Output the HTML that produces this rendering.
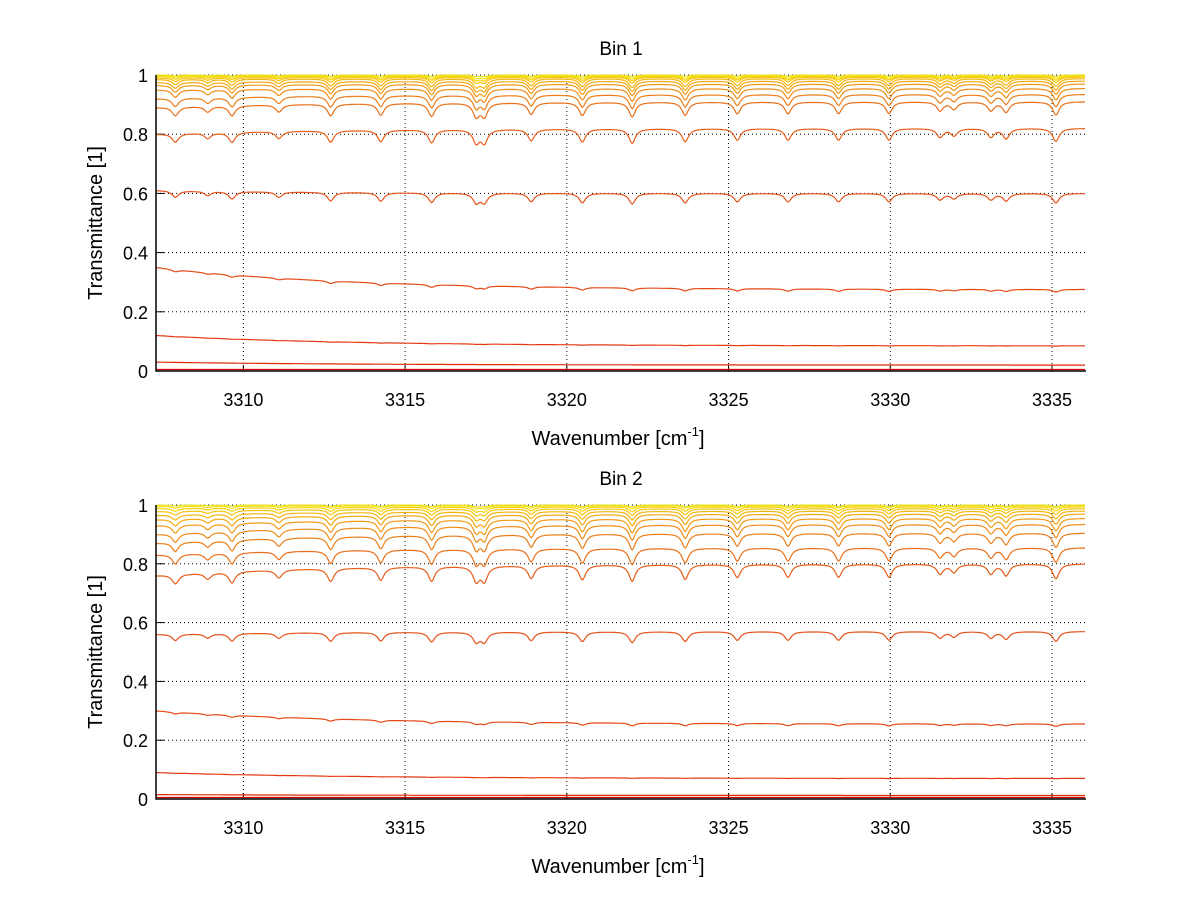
<!DOCTYPE html>
<html><head><meta charset="utf-8"><style>
html,body{margin:0;padding:0;background:#fff;}
svg{display:block;font-family:"Liberation Sans",sans-serif;}
</style></head><body>
<svg id="chart" width="1200" height="901" viewBox="0 0 1200 901"></svg>
<script>
// ---- data ----
const xTicks = [3310, 3315, 3320, 3325, 3330, 3335];
const yTicks = [0, 0.2, 0.4, 0.6, 0.8, 1];
const lineCenters = [3307.9, 3308.9, 3309.65, 3311.1, 3312.7, 3314.25, 3315.82, 3317.2, 3317.45, 3318.9, 3320.48, 3322.02, 3323.66, 3325.27, 3326.84, 3328.4, 3329.96, 3331.54, 3331.97, 3333.11, 3333.58, 3335.12];
const lineStrengths = [0.6, 0.4, 0.7, 0.5, 0.8, 0.8, 0.9, 0.9, 0.9, 0.8, 0.9, 1.0, 0.9, 0.8, 0.8, 0.8, 0.8, 0.6, 0.5, 0.6, 0.7, 0.9];
const bin1Base = [0.005, 0.02, 0.085, 0.275, 0.6, 0.82, 0.91, 0.935, 0.955, 0.97, 0.98, 0.988, 0.993, 0.996, 0.998, 1.0];
const bin1Left = [0.005, 0.03, 0.12, 0.35, 0.61, 0.8, 0.89, 0.92, 0.95, 0.965, 0.975, 0.985, 0.99, 0.995, 0.998, 1.0];
const bin1Depth = [0.0, 0.0, 0.015, 0.035, 0.06, 0.06, 0.055, 0.05, 0.045, 0.04, 0.035, 0.03, 0.02, 0.015, 0.01, 0.005];
const bin2Base = [0.005, 0.012, 0.07, 0.255, 0.57, 0.8, 0.855, 0.905, 0.935, 0.955, 0.97, 0.98, 0.988, 0.994, 0.998, 1.0];
const bin2Left = [0.005, 0.015, 0.09, 0.3, 0.56, 0.76, 0.83, 0.87, 0.9, 0.93, 0.95, 0.965, 0.978, 0.988, 0.995, 1.0];
const bin2Depth = [0.0, 0.0, 0.015, 0.035, 0.065, 0.07, 0.065, 0.06, 0.055, 0.05, 0.04, 0.03, 0.022, 0.016, 0.01, 0.006];
const curveColors = ["#d40000","#dd2a00","#e23a10","#e44a16","#e5521a","#e65e1a","#e8701a","#eb7e1a","#ee8c18","#f09a16","#f2a812","#f4b60e","#f6c40a","#f8d208","#f5e010","#e8e020"];
const xMin = 3307.3, xMax = 3336.05;

const NS = "http://www.w3.org/2000/svg";
const svg = document.getElementById("chart");
function mk(tag, attrs, parent) {
  const e = document.createElementNS(NS, tag);
  for (const k in attrs) e.setAttribute(k, attrs[k]);
  (parent || svg).appendChild(e);
  return e;
}
function absorb(w) {
  let s = 0;
  for (let i = 0; i < lineCenters.length; i++) {
    const d = (w - lineCenters[i]) / 0.12;
    s += lineStrengths[i] / (1 + d * d);
  }
  return s;
}
function panel(id, title, x0, x1, yTop, yBot, base, left, depth) {
  const g = mk("g", {});
  
  
  const sx = v => x0 + (v - xMin) / (xMax - xMin) * (x1 - x0);
  const sy = v => yBot - v * (yBot - yTop);
  xTicks.forEach(t => {
    const l = mk("line", {x1: sx(t), x2: sx(t), y1: yTop, y2: yBot, stroke: "#000", "stroke-width": 1, "stroke-dasharray": "1,3"}, g);
    
    
    const tk = mk("line", {x1: sx(t), x2: sx(t), y1: yBot, y2: yBot - 6, stroke: "#000"}, g);
    
    
    const tx = mk("text", {x: sx(t), y: yBot + 35, "text-anchor": "middle", "font-size": 18}, g);
    tx.textContent = t;
    
    
  });
  yTicks.forEach(t => {
    const l = mk("line", {x1: x0, x2: x1, y1: sy(t), y2: sy(t), stroke: "#000", "stroke-width": 1, "stroke-dasharray": "1,3"}, g);
    
    
    const tk = mk("line", {x1: x0, x2: x0 + 8, y1: sy(t), y2: sy(t), stroke: "#000"}, g);
    
    
    const tx = mk("text", {x: x0 - 8, y: sy(t) + 7, "text-anchor": "end", "font-size": 18}, g);
    tx.textContent = t;
    
    
  });
  for (let c = 0; c < base.length; c++) {
    let d = "";
    for (let w = xMin; w <= xMax + 1e-9; w += 0.04) {
      const f = (w - xMin) / (xMax - xMin);
      const b = base[c] + (left[c] - base[c]) * Math.exp(-f * 5);
      const v = b * (1 - depth[c] * absorb(w));
      d += (d ? "L" : "M") + sx(w).toFixed(1) + "," + sy(Math.min(1, v)).toFixed(1);
    }
    const p = mk("path", {d: d, fill: "none", stroke: curveColors[c], "stroke-width": 1.2}, g);
    
    
  }
  const ax = mk("path", {d: `M${x0},${yTop}V${yBot}H${x1}`, fill: "none", stroke: "#000", "stroke-width": 1.5}, g);
  
  
  const tt = mk("text", {x: (x0 + x1) / 2, y: yTop - 20, "text-anchor": "middle", "font-size": 19}, g);
  tt.textContent = title;
  
  
  const xl = mk("text", {x: (x0 + x1) / 2 - 3, y: yBot + 74, "text-anchor": "middle", "font-size": 20}, g);
  xl.innerHTML = 'Wavenumber [cm<tspan font-size="13" dy="-9">-1</tspan><tspan dy="9">]</tspan>';
  
  
  const yl = mk("text", {x: 0, y: 0, "text-anchor": "middle", "font-size": 20, transform: `translate(102,${(yTop + yBot) / 2}) rotate(-90)`}, g);
  yl.textContent = "Transmittance [1]";
  
  
}
panel("bin1-panel", "Bin 1", 156, 1086, 75, 371, bin1Base, bin1Left, bin1Depth);
panel("bin2-panel", "Bin 2", 156, 1086, 505, 799, bin2Base, bin2Left, bin2Depth);
</script>
</body></html>
